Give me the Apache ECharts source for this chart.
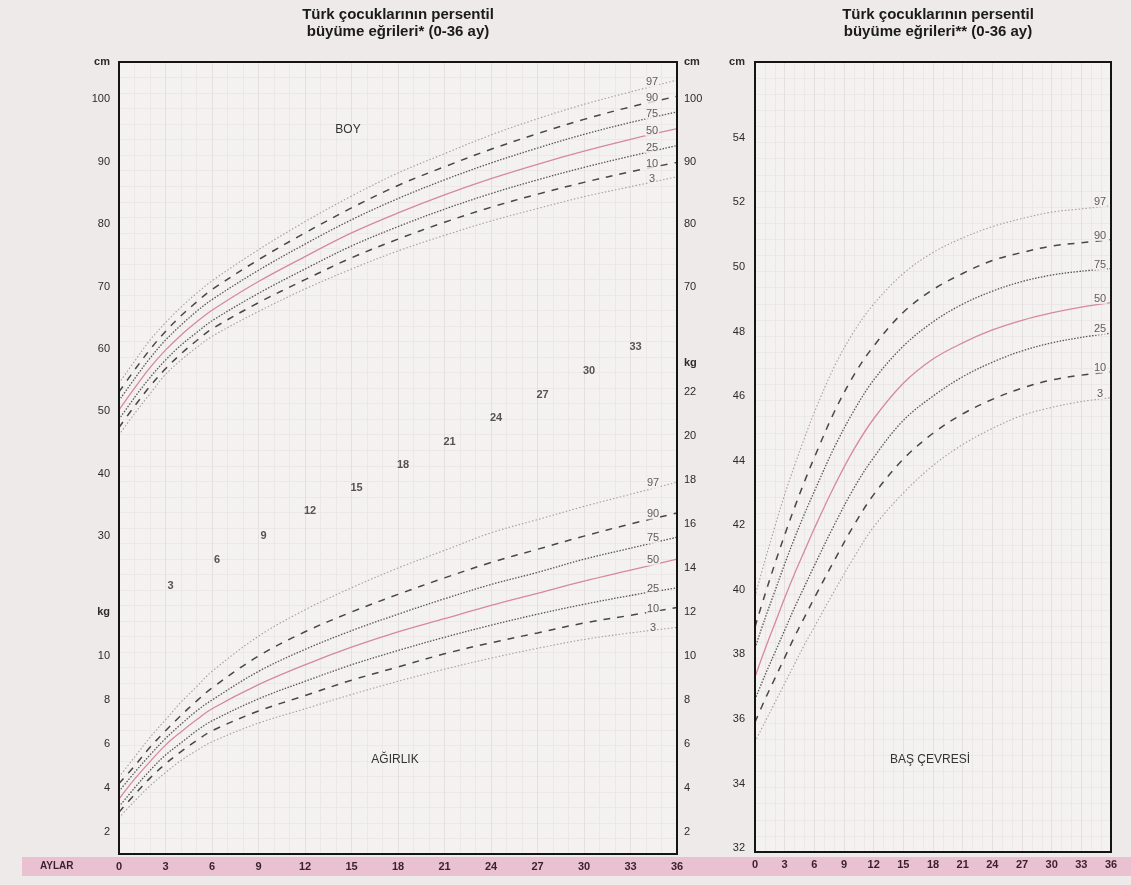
<!DOCTYPE html>
<html>
<head>
<meta charset="utf-8">
<script src="https://cdn.jsdelivr.net/npm/echarts@6/dist/echarts.min.js"></script>
<style>
html,body{margin:0;padding:0;background:#eeeaea;}
#chart{width:1131px;height:885px;}
</style>
</head>
<body>
<div id="chart"></div>
<script>
// ---------- DATA ----------
const monthTicks = [0,3,6,9,12,15,18,21,24,27,30,33,36];
const percentiles = ['97','90','75','50','25','10','3'];

// Height (BOY) cm
const boyMonths = [0,1,2,3,4,5,6,9,12,15,18,21,24,27,30,33,36];
const boy97 = [54.5,58.0,61.4,64.2,66.7,68.9,70.9,75.9,80.4,84.5,88.2,91.3,94.3,96.9,99.2,101.2,103.1];
const boy90 = [53.1,56.6,59.9,62.8,65.3,67.5,69.5,74.3,78.6,82.6,86.2,89.2,92.0,94.5,96.8,98.8,100.5];
const boy75 = [51.7,55.2,58.5,61.4,63.8,66.0,67.9,72.6,76.8,80.7,84.1,87.1,89.8,92.2,94.4,96.3,98.0];
const boy50 = [50.2,53.7,57.0,59.8,62.2,64.3,66.2,70.8,74.8,78.6,81.8,84.7,87.3,89.6,91.7,93.6,95.3];
const boy25 = [48.7,52.2,55.4,58.2,60.6,62.6,64.5,68.9,72.8,76.5,79.6,82.4,84.9,87.1,89.1,90.9,92.6];
const boy10 = [47.4,50.8,54.0,56.8,59.2,61.3,63.2,67.4,71.1,74.6,77.6,80.3,82.7,84.8,86.7,88.4,89.9];
const boy3  = [46.2,49.6,52.8,55.9,58.2,60.2,62.0,66.0,69.6,72.8,75.7,78.2,80.5,82.5,84.4,86.0,87.6];

// Weight (AĞIRLIK) kg
const wMonths = [0,1,2,3,4,5,6,9,12,15,18,21,24,27,30,33,36];
const w97 = [4.5,5.4,6.3,7.1,7.9,8.6,9.3,10.9,12.1,13.1,14.0,14.8,15.6,16.2,16.8,17.35,17.9];
const w90 = [4.2,5.0,5.85,6.6,7.3,7.95,8.55,10.0,11.1,12.0,12.8,13.55,14.25,14.85,15.45,16.0,16.5];
const w75 = [3.85,4.7,5.5,6.25,6.9,7.5,8.0,9.3,10.3,11.15,11.9,12.6,13.25,13.8,14.4,14.9,15.4];
const w50 = [3.5,4.4,5.2,5.95,6.55,7.1,7.6,8.7,9.6,10.4,11.1,11.7,12.3,12.85,13.4,13.9,14.4];
const w25 = [3.15,4.0,4.8,5.5,6.05,6.6,7.05,8.05,8.85,9.6,10.25,10.85,11.4,11.9,12.35,12.75,13.1];
const w10 = [2.9,3.7,4.45,5.1,5.65,6.15,6.6,7.5,8.2,8.9,9.5,10.1,10.6,11.05,11.5,11.85,12.2];
const w3  = [2.65,3.4,4.1,4.7,5.25,5.7,6.1,6.95,7.6,8.25,8.85,9.4,9.9,10.35,10.75,11.05,11.3];

// Head circumference (BAŞ ÇEVRESİ) cm
const hMonths = [0,1,2,3,4,5,6,8,10,12,15,18,21,24,27,30,33,36];
const h97 = [39.8,40.9,41.95,42.95,43.85,44.7,45.5,46.9,48.0,48.85,49.8,50.45,50.9,51.25,51.5,51.7,51.8,51.9];
const h90 = [38.85,39.85,40.8,41.7,42.55,43.35,44.1,45.5,46.65,47.55,48.6,49.3,49.8,50.2,50.45,50.65,50.75,50.85];
const h75 = [38.2,39.1,39.95,40.8,41.6,42.35,43.05,44.4,45.55,46.5,47.55,48.3,48.85,49.25,49.55,49.75,49.87,49.95];
const h50 = [37.3,38.15,38.95,39.75,40.5,41.2,41.9,43.2,44.35,45.3,46.4,47.15,47.65,48.05,48.35,48.58,48.76,48.9];
const h25 = [36.6,37.35,38.05,38.75,39.45,40.1,40.75,42.0,43.15,44.1,45.25,46.0,46.6,47.05,47.4,47.65,47.82,47.95];
const h10 = [35.9,36.6,37.25,37.9,38.55,39.15,39.75,40.9,42.0,42.95,44.05,44.85,45.45,45.9,46.25,46.5,46.65,46.75];
const h3  = [35.3,35.9,36.5,37.1,37.7,38.3,38.85,39.95,41.0,41.95,43.0,43.85,44.5,45.0,45.4,45.65,45.83,45.95];

// Diagonal month scale labels (months and kg level where printed)
const diagMonths = [3,6,9,12,15,18,21,24,27,30,33];
const diagLevelsKg = [13.2,14.35,15.45,16.6,17.65,18.7,19.75,20.8,21.85,22.95,24.05];

// Tick labels
const cmLeftTicks = [30,40,50,60,70,80,90,100];
const cmRightTicks = [70,80,90,100];
const kgLeftTicks = [2,4,6,8,10];
const kgRightTicks = [2,4,6,8,10,12,14,16,18,20,22];
const headTicks = [32,34,36,38,40,42,44,46,48,50,52,54];

// ---------- CHART ----------
const FONT = 'Liberation Sans, Arial, Helvetica, sans-serif';
const PLOT_BG = '#f4f1f1';
const boySets = [boy97,boy90,boy75,boy50,boy25,boy10,boy3];
const wSets = [w97,w90,w75,w50,w25,w10,w3];
const hSets = [h97,h90,h75,h50,h25,h10,h3];

function styleFor(p){
  if (p==='97' || p==='3') return {color:'#a99ca1', width:1.1, type:[1.5,2]};
  if (p==='90' || p==='10') return {color:'#4a4547', width:1.5, type:[7,7]};
  if (p==='75' || p==='25') return {color:'#5a5557', width:1.3, type:[1.5,1.5]};
  return {color:'#d6899c', width:1.3, type:'solid'};
}
function zip(xs, ys){ return xs.map((x,i)=>[x, ys[i]]); }

const series = [];
function addLines(xs, sets, xi, yi){
  sets.forEach((vals, k)=>{
    const p = percentiles[k];
    series.push({
      type:'line', xAxisIndex:xi, yAxisIndex:yi, data: zip(xs, vals),
      smooth:0.35, showSymbol:false, symbol:'none', silent:true,
      lineStyle: styleFor(p), z: 3
    });
  });
}
addLines(boyMonths, boySets, 0, 0);
addLines(wMonths, wSets, 0, 1);
addLines(hMonths, hSets, 1, 5);

function addEndLabels(xs, sets, xi, yi, offset){
  series.push({
    type:'scatter', xAxisIndex:xi, yAxisIndex:yi, silent:true,
    symbol:'circle', symbolSize:1, itemStyle:{color:'rgba(0,0,0,0)'}, z:6,
    data: sets.map((vals,k)=>({name:percentiles[k], value:[xs[xs.length-1], vals[vals.length-1]]})),
    label:{show:true, position:'inside', offset:offset, formatter:'{b}', color:'#3a3536',
      fontSize:11, fontFamily:FONT, backgroundColor:PLOT_BG, padding:[0,1]}
  });
}
addEndLabels(boyMonths, boySets, 0, 0, [-25, 2]);
addEndLabels(wMonths, wSets, 0, 1, [-24, 1]);
addEndLabels(hMonths, hSets, 1, 5, [-11, -4]);

series.push({
  type:'scatter', xAxisIndex:0, yAxisIndex:1, silent:true,
  symbol:'circle', symbolSize:1, itemStyle:{color:'rgba(0,0,0,0)'}, z:6,
  data: zip(diagMonths, diagLevelsKg),
  label:{show:true, position:'inside', offset:[5,0], formatter:(p)=>String(p.value[0]),
    color:'#2e2a2c', fontSize:11, fontWeight:'bold', fontFamily:FONT}
});

const labelBase = {color:'#2e2a2c', fontSize:11, fontFamily:FONT};
const richBold = {b:{fontWeight:'bold', fontSize:11, color:'#2e2a2c', fontFamily:FONT}};
function yAx(opts){
  return Object.assign({
    type:'value', axisLine:{show:false}, axisTick:{show:false}, splitLine:{show:false}
  }, opts);
}

const CM_MIN = -21, CM_MAX = 106, KG_MIN = 1, KG_MAX = 37;
const HEAD_MIN = 31.88, HEAD_MAX = 56.35;
const KG_NAME_LEFT = 12, KG_NAME_RIGHT = 23.3;

const xAxisBase = {
  type:'value', min:0, max:36, interval:3,
  axisLine:{show:false}, axisTick:{show:false},
  axisLabel:{margin:7, color:'#3b1f2b', fontSize:11, fontWeight:'bold', fontFamily:FONT},
  splitLine:{show:true, lineStyle:{color:'#e6dfe1', width:1}},
  minorTick:{show:false, splitNumber:3},
  minorSplitLine:{show:true, lineStyle:{color:'#ece7e8', width:1}}
};

const option = {
  backgroundColor:'#eeeaea',
  animation:false,
  textStyle:{fontFamily:FONT},
  grid:[
    {left:119, top:62, width:558, height:792, show:true, backgroundColor:PLOT_BG, borderWidth:0},
    {left:755, top:62, width:356, height:790, show:true, backgroundColor:PLOT_BG, borderWidth:0}
  ],
  xAxis:[
    Object.assign({}, xAxisBase, {gridIndex:0}),
    Object.assign({}, xAxisBase, {gridIndex:1})
  ],
  yAxis:[
    yAx({gridIndex:0, position:'left', min:CM_MIN, max:CM_MAX,
      axisLabel:{...labelBase, margin:9, customValues:[...cmLeftTicks, CM_MAX], rich:richBold,
        formatter:(v)=> v===CM_MAX ? '{b|cm}' : String(v)}}),
    yAx({gridIndex:0, position:'left', min:KG_MIN, max:KG_MAX,
      axisLabel:{...labelBase, margin:9, customValues:[...kgLeftTicks, KG_NAME_LEFT], rich:richBold,
        formatter:(v)=> v===KG_NAME_LEFT ? '{b|kg}' : String(v)}}),
    yAx({gridIndex:0, position:'right', min:CM_MIN, max:CM_MAX,
      axisLabel:{...labelBase, margin:7, customValues:[...cmRightTicks, CM_MAX], rich:richBold,
        formatter:(v)=> v===CM_MAX ? '{b|cm}' : String(v)}}),
    yAx({gridIndex:0, position:'right', min:KG_MIN, max:KG_MAX,
      axisLabel:{...labelBase, margin:7, customValues:[...kgRightTicks, KG_NAME_RIGHT], rich:richBold,
        formatter:(v)=> v===KG_NAME_RIGHT ? '{b|kg}' : String(v)}}),
    yAx({gridIndex:0, position:'left', min:0, max:51, interval:1, axisLabel:{show:false},
      splitLine:{show:true, lineStyle:{color:'#ece7e8', width:1}}}),
    yAx({gridIndex:1, position:'left', min:HEAD_MIN, max:HEAD_MAX,
      axisLabel:{...labelBase, margin:10, customValues:[...headTicks, HEAD_MAX], rich:richBold,
        formatter:(v)=> v===HEAD_MAX ? '{b|cm}' : String(v)}}),
    yAx({gridIndex:1, position:'left', min:0, max:49, interval:1, axisLabel:{show:false},
      splitLine:{show:true, lineStyle:{color:'#ece7e8', width:1}}})
  ],
  graphic:[
    {type:'rect', z:-100, shape:{x:22, y:857, width:1109, height:19}, style:{fill:'#e9c1d0'}},
    {type:'rect', z:50, shape:{x:119, y:62, width:558, height:792}, style:{fill:null, stroke:'#141414', lineWidth:2}},
    {type:'rect', z:50, shape:{x:755, y:62, width:356, height:790}, style:{fill:null, stroke:'#141414', lineWidth:2}},
    {type:'text', z:60, left:40, top:861, style:{text:'AYLAR', fill:'#3b1f2b', font:'bold 10px '+FONT}},
    {type:'text', z:60, x:398, y:15, style:{text:'Türk çocuklarının persentil', fill:'#1a1a1a', font:'bold 15px '+FONT, textAlign:'center', textVerticalAlign:'middle'}},
    {type:'text', z:60, x:398, y:32, style:{text:'büyüme eğrileri* (0-36 ay)', fill:'#1a1a1a', font:'bold 15px '+FONT, textAlign:'center', textVerticalAlign:'middle'}},
    {type:'text', z:60, x:938, y:15, style:{text:'Türk çocuklarının persentil', fill:'#1a1a1a', font:'bold 15px '+FONT, textAlign:'center', textVerticalAlign:'middle'}},
    {type:'text', z:60, x:938, y:32, style:{text:'büyüme eğrileri** (0-36 ay)', fill:'#1a1a1a', font:'bold 15px '+FONT, textAlign:'center', textVerticalAlign:'middle'}},
    {type:'text', z:60, x:348, y:130, style:{text:'BOY', fill:'#333', font:'12px '+FONT, textAlign:'center', textVerticalAlign:'middle'}},
    {type:'text', z:60, x:395, y:760, style:{text:'AĞIRLIK', fill:'#333', font:'12px '+FONT, textAlign:'center', textVerticalAlign:'middle'}},
    {type:'text', z:60, x:930, y:760, style:{text:'BAŞ ÇEVRESİ', fill:'#333', font:'12px '+FONT, textAlign:'center', textVerticalAlign:'middle'}}
  ],
  series: series
};

const chart = echarts.init(document.getElementById('chart'), null, {renderer:'canvas'});
chart.setOption(option);
</script>
</body>
</html>
